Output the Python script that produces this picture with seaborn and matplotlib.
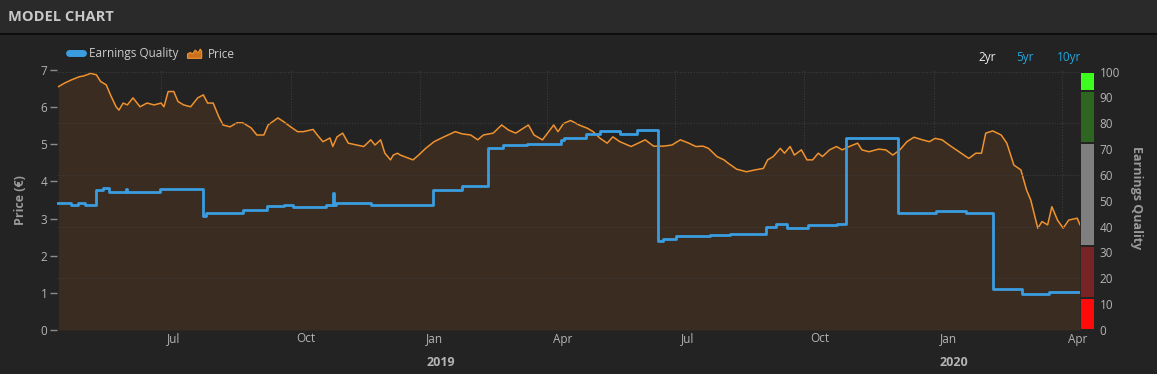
"""
Model chart: share price (area) vs Earnings Quality score (step line), 2yr view.
"""

import matplotlib
matplotlib.use("Agg")
import matplotlib.pyplot as plt
import matplotlib.transforms as mtransforms
from matplotlib.lines import Line2D
from matplotlib.patches import Patch, Polygon, Rectangle
from matplotlib.legend_handler import HandlerBase
import seaborn as sns
import pandas as pd

# --- data ------------------------------------------------------------------
price_dates = [
    "2018-04-19", "2018-04-23", "2018-04-28", "2018-05-04", "2018-05-07", "2018-05-12",
    "2018-05-16", "2018-05-19", "2018-05-23", "2018-05-26", "2018-05-30",
    "2018-06-01", "2018-06-04", "2018-06-07", "2018-06-11", "2018-06-16", "2018-06-21", "2018-06-26",
    "2018-07-01", "2018-07-03", "2018-07-06", "2018-07-10", "2018-07-13", "2018-07-17",
    "2018-07-22", "2018-07-27", "2018-07-31",
    "2018-08-03", "2018-08-07", "2018-08-11", "2018-08-14", "2018-08-19", "2018-08-24", "2018-08-28",
    "2018-09-03", "2018-09-07", "2018-09-12", "2018-09-15", "2018-09-22", "2018-09-26",
    "2018-10-01", "2018-10-06", "2018-10-10", "2018-10-17", "2018-10-20", "2018-10-24",
    "2018-10-29", "2018-10-31",
    "2018-11-03", "2018-11-07", "2018-11-11", "2018-11-17", "2018-11-22", "2018-11-27", "2018-11-30",
    "2018-12-04", "2018-12-07", "2018-12-11", "2018-12-13", "2018-12-16", "2018-12-18",
    "2018-12-27", "2018-12-31",
    "2019-01-05", "2019-01-11", "2019-01-18", "2019-01-26", "2019-01-31",
    "2019-02-06", "2019-02-11", "2019-02-15", "2019-02-22", "2019-02-28",
    "2019-03-05", "2019-03-10", "2019-03-19", "2019-03-23", "2019-03-29",
    "2019-04-06", "2019-04-09", "2019-04-13", "2019-04-18", "2019-04-24", "2019-04-30",
    "2019-05-04", "2019-05-09", "2019-05-14", "2019-05-18", "2019-05-23", "2019-05-31",
    "2019-06-05", "2019-06-10", "2019-06-16", "2019-06-23", "2019-06-29",
    "2019-07-05", "2019-07-11", "2019-07-16", "2019-07-21", "2019-07-25", "2019-07-31",
    "2019-08-05", "2019-08-08", "2019-08-14", "2019-08-21", "2019-08-27",
    "2019-09-02", "2019-09-05", "2019-09-09", "2019-09-14", "2019-09-17", "2019-09-21",
    "2019-09-24", "2019-09-29",
    "2019-10-03", "2019-10-07", "2019-10-11", "2019-10-14", "2019-10-19", "2019-10-24", "2019-10-28",
    "2019-11-02", "2019-11-08", "2019-11-11", "2019-11-16", "2019-11-23", "2019-11-28",
    "2019-12-03", "2019-12-08", "2019-12-13", "2019-12-18", "2019-12-24", "2019-12-29",
    "2020-01-02", "2020-01-07", "2020-01-12", "2020-01-19", "2020-01-26", "2020-01-31",
    "2020-02-04", "2020-02-07", "2020-02-12", "2020-02-18", "2020-02-22", "2020-02-27",
    "2020-03-03", "2020-03-07", "2020-03-10", "2020-03-15", "2020-03-18", "2020-03-22",
    "2020-03-25", "2020-03-29",
    "2020-04-02", "2020-04-06", "2020-04-12", "2020-04-14",
]
price_values = [
    6.55, 6.64, 6.73, 6.82, 6.84, 6.91, 6.87, 6.69, 6.60, 6.33, 6.01,
    5.92, 6.11, 6.06, 6.25, 6.01, 6.11, 6.06,
    6.11, 6.01, 6.42, 6.42, 6.15, 6.06, 6.01, 6.25, 6.33,
    6.11, 6.11, 5.74, 5.52, 5.47, 5.58, 5.58,
    5.44, 5.25, 5.25, 5.52, 5.71, 5.61,
    5.47, 5.34, 5.34, 5.40, 5.25, 5.07, 5.17, 4.94,
    5.20, 5.30, 5.03, 4.98, 4.94, 5.12, 4.98,
    5.12, 4.76, 4.58, 4.71, 4.76, 4.71, 4.58, 4.71,
    4.89, 5.07, 5.20, 5.34, 5.28,
    5.25, 5.12, 5.25, 5.30, 5.52,
    5.38, 5.30, 5.52, 5.25, 5.12,
    5.52, 5.34, 5.56, 5.64, 5.52, 5.43,
    5.34, 5.16, 5.03, 5.20, 5.07, 4.94,
    5.03, 5.12, 4.95, 4.95, 4.98,
    5.12, 5.03, 4.94, 4.95, 4.89, 4.67,
    4.58, 4.49, 4.33, 4.26, 4.31,
    4.35, 4.58, 4.67, 4.89, 4.76, 4.94, 4.71, 4.85,
    4.58, 4.58, 4.76, 4.67, 4.85, 4.94, 4.85,
    4.94, 5.03, 4.85, 4.80, 4.87, 4.85,
    4.71, 4.85, 5.07, 5.19, 5.12, 5.07,
    5.16, 5.12, 4.98, 4.80, 4.62, 4.76,
    4.76, 5.30, 5.36, 5.25, 5.03, 4.44,
    4.31, 3.77, 3.50, 2.74, 2.92, 2.83, 3.32, 2.96,
    2.74, 2.96, 3.01, 2.83,
]

eq_dates = [
    "2018-04-18", "2018-04-28", "2018-05-03", "2018-05-08", "2018-05-16", "2018-05-21",
    "2018-05-25", "2018-06-06", "2018-06-07", "2018-06-30", "2018-07-31", "2018-08-02",
    "2018-08-28", "2018-09-14", "2018-09-26", "2018-10-03", "2018-10-26", "2018-10-31",
    "2018-11-01", "2018-11-02", "2018-11-27", "2019-01-10", "2019-01-31", "2019-02-18",
    "2019-03-01", "2019-03-18", "2019-04-11", "2019-04-13", "2019-04-29", "2019-05-09",
    "2019-05-23", "2019-06-04", "2019-06-19", "2019-06-23", "2019-07-02", "2019-07-26",
    "2019-08-09", "2019-09-04", "2019-09-11", "2019-09-19", "2019-10-04", "2019-10-24",
    "2019-10-31", "2019-12-07", "2020-01-03", "2020-01-24", "2020-02-12", "2020-03-04",
    "2020-03-23", "2020-04-14",
]
eq_values = [
    49.3, 48.4, 49.3, 48.4, 54.3, 54.9, 53.4, 54.5, 53.4, 54.6,
    44.0, 45.2, 46.5, 47.8, 48.4, 47.5, 48.4, 53.0, 48.4, 49.3,
    48.4, 54.3, 55.6, 70.5, 71.4, 72.0, 73.4, 74.3, 75.7, 77.0,
    76.0, 77.5, 34.5, 35.4, 36.3, 36.7, 37.3, 39.9, 41.2, 39.3,
    40.5, 41.2, 74.3, 45.3, 46.1, 45.3, 15.8, 13.9, 14.8, 14.8,
]

# score bands shown in the bar on the right
band_edges = [0, 12.5, 32.5, 72.5, 92.5, 100]
band_colors = ["#ff0a0a", "#782326", "#7f7f7f", "#2e6520", "#3cff1e"]

quarter_ticks = ["2018-07-01", "2018-10-01", "2019-01-01", "2019-04-01",
                 "2019-07-01", "2019-10-01", "2020-01-01", "2020-04-01"]
quarter_labels = ["Jul", "Oct", "Jan", "Apr", "Jul", "Oct", "Jan", "Apr"]
year_ticks = ["2019-01-01", "2020-01-01"]
year_labels = ["2019", "2020"]

# --- colours ---------------------------------------------------------------
BG = "#232323"
HEADER = "#2a2a2a"
ORANGE = "#f0922e"
FILL = "#3a2c20"
BLUE = "#3a9de0"
TEXT = "#b4b4b4"
GRID = "#3c3c3c"

W, H = 1157, 374


class MountainHandler(HandlerBase):
    """Small area-chart glyph for the price legend entry."""

    def create_artists(self, legend, orig_handle, xd, yd, width, height, fontsize, trans):
        pts = [(0, 0), (0, 0.45), (0.2, 0.6), (0.35, 0.45), (0.55, 0.85),
               (0.75, 0.55), (0.9, 0.95), (1, 0.7), (1, 0)]
        poly = Polygon([(xd * 0 - xd + px * width, -yd + py * height) for px, py in pts],
                       closed=True, facecolor="#c9711f", edgecolor=ORANGE, lw=0.8,
                       transform=trans)
        return [poly]


sns.set_theme(style="dark")
plt.rcParams["font.family"] = ["Open Sans", "DejaVu Sans"]

fig = plt.figure(figsize=(W / 100, H / 100), dpi=100, facecolor=BG)

# header strip
fig.add_artist(Rectangle((0, 1 - 33 / H), 1, 33 / H, transform=fig.transFigure,
                         color=HEADER, zorder=0))
fig.add_artist(Line2D([0, 1], [1 - 34 / H, 1 - 34 / H], transform=fig.transFigure,
                      color="#0e0e0e", lw=1.5))
fig.text(8 / W, 1 - 17 / H, "MODEL CHART", color="#c8c8c8", fontsize=10.5,
         fontweight="bold", ha="left", va="center")

ax = fig.add_axes([57 / W, 44 / H, 1023 / W, 260 / H])
ax.set_facecolor(BG)

price = pd.DataFrame({"date": pd.to_datetime(price_dates), "price": price_values})
eq = pd.DataFrame({"date": pd.to_datetime(eq_dates), "score": eq_values})

ax.fill_between(price["date"], price["price"], 0, color=FILL, lw=0, zorder=1)
sns.lineplot(data=price, x="date", y="price", ax=ax, color=ORANGE, lw=1.1, zorder=2)

ax.set_ylim(0, 7)
ax.set_xlim(pd.Timestamp("2018-04-18"), pd.Timestamp("2020-04-14"))
ax.set_yticks(range(8))
ax.tick_params(axis="y", colors="#8c8c8c", labelcolor=TEXT, labelsize=8.5,
               length=5, width=1, pad=2, left=True)
ax.set_xticks(pd.to_datetime(quarter_ticks))
ax.set_xticklabels([])
ax.tick_params(axis="x", length=0)
ax.xaxis.grid(True, color=GRID, ls=(0, (1, 1.5)), lw=0.8)
ax.yaxis.grid(False)
ax.set_xlabel("")
ax.set_ylabel("")
for s in ax.spines.values():
    s.set_visible(False)

# quarter / year labels sit just right of their gridline
trans = mtransforms.blended_transform_factory(ax.transData, ax.transAxes)
for d, lab in zip(pd.to_datetime(quarter_ticks), quarter_labels):
    ax.text(d, 0, lab, transform=mtransforms.offset_copy(trans, fig=fig, x=6, y=-9, units="dots"),
            ha="left", va="center", fontsize=8.5, color=TEXT)
for d, lab in zip(pd.to_datetime(year_ticks), year_labels):
    ax.text(d, 0, lab, transform=mtransforms.offset_copy(trans, fig=fig, x=6, y=-32, units="dots"),
            ha="left", va="center", fontsize=9, color=TEXT, fontweight="bold")

# earnings quality on its own 0-100 scale
ax2 = ax.twinx()
sns.lineplot(data=eq, x="date", y="score", ax=ax2, color=BLUE, lw=2.0,
             drawstyle="steps-post", zorder=3)
ax2.set_ylim(0, 100.6)
ax2.set_yticks([20, 40, 60, 80, 100])
ax2.tick_params(axis="y", length=0, labelright=False, labelleft=False)
ax2.yaxis.grid(True, color=GRID, ls=(0, (1, 1.5)), lw=0.8)
ax2.xaxis.grid(False)
ax2.set_ylabel("")
ax2.set_xlabel("")
for s in ax2.spines.values():
    s.set_visible(False)

# score band bar with 0-100 scale
cax = fig.add_axes([1081 / W, 44 / H, 13 / W, 260 / H])
cax.set_facecolor(BG)
for lo, hi, c in zip(band_edges[:-1], band_edges[1:], band_colors):
    cax.bar(0, hi - lo - 0.8, bottom=lo + 0.4, width=1, color=c, lw=0)
cax.set_xlim(-0.5, 0.5)
cax.set_ylim(0, 100.6)
cax.set_xticks([])
cax.set_yticks(range(0, 101, 10))
cax.yaxis.tick_right()
cax.tick_params(axis="y", length=0, labelcolor=TEXT, labelsize=8.5, pad=4)
cax.grid(False)
for s in cax.spines.values():
    s.set_visible(False)

fig.text(20 / W, 1 - 200 / H, "Price (€)", rotation=90, ha="center", va="center",
         color="#9a9a9a", fontsize=9, fontweight="bold")
fig.text(1136 / W, 1 - 198 / H, "Earnings Quality", rotation=270, ha="center", va="center",
         color="#9a9a9a", fontsize=9, fontweight="bold")

# legend and range selector
price_handle = Patch(facecolor="#c9711f", edgecolor=ORANGE)
handles = [Line2D([0], [0], color=BLUE, lw=5, solid_capstyle="round"), price_handle]
fig.legend(handles, ["Earnings Quality", "Price"], loc="center left",
           bbox_to_anchor=(58 / W, 1 - 54 / H), ncol=2, frameon=False, fontsize=8.5,
           labelcolor="#cccccc", handlelength=1.2, handleheight=0.9,
           handletextpad=0.5, columnspacing=0.8,
           handler_map={price_handle: MountainHandler()})

for x, lab, c in [(987, "2yr", "#eeeeee"), (1025, "5yr", "#22a6e0"), (1069, "10yr", "#22a6e0")]:
    fig.text(x / W, 1 - 57 / H, lab, ha="center", va="center", fontsize=8.5, color=c)

fig.savefig("out.png", dpi=100, facecolor=BG)
